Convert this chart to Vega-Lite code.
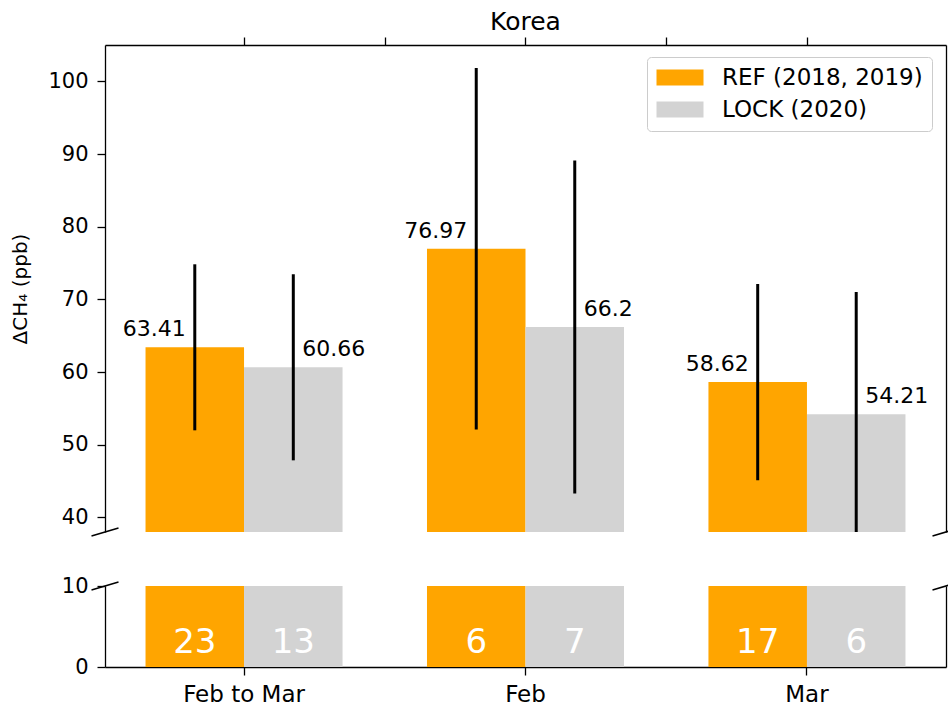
{
  "$schema": "https://vega.github.io/schema/vega-lite/v6.json",
  "padding": {"left": 10, "top": 10, "right": 0, "bottom": 0},
  "background": "white",
  "datasets": {
    "d": [
      {"period": "Feb to Mar", "series": "REF (2018, 2019)", "value": 63.41, "lo": 51.99, "hi": 74.83, "n": 23},
      {"period": "Feb to Mar", "series": "LOCK (2020)", "value": 60.66, "lo": 47.86, "hi": 73.46, "n": 13},
      {"period": "Feb", "series": "REF (2018, 2019)", "value": 76.97, "lo": 52.1, "hi": 101.84, "n": 6},
      {"period": "Feb", "series": "LOCK (2020)", "value": 66.2, "lo": 43.3, "hi": 89.1, "n": 7},
      {"period": "Mar", "series": "REF (2018, 2019)", "value": 58.62, "lo": 45.12, "hi": 72.12, "n": 17},
      {"period": "Mar", "series": "LOCK (2020)", "value": 54.21, "lo": 37.4, "hi": 71.02, "n": 6}
    ]
  },
  "config": {
    "font": "DejaVu Sans",
    "view": {"stroke": null},
    "axis": {
      "grid": false, "domainColor": "#000", "domainWidth": 1.3, "tickColor": "#000", "tickWidth": 1.3, "tickSize": 8,
      "labelFontSize": 21, "labelColor": "#000", "titleColor": "#000", "titleFontWeight": "normal",
      "labelFont": "DejaVu Sans", "titleFont": "DejaVu Sans"
    }
  },
  "spacing": 35,
  "resolve": {"legend": {"color": "independent"}},
  "vconcat": [
    {
      "width": 841,
      "height": 487,
      "title": {"text": "Korea", "fontSize": 25, "fontWeight": "normal", "offset": 1, "color": "#000", "font": "DejaVu Sans"},
      "layer": [
        {
          "data": {"name": "d"},
          "layer": [
            {
              "mark": {"type": "bar", "clip": true},
              "encoding": {
                "x": {"field": "period", "type": "nominal", "sort": ["Feb to Mar", "Feb", "Mar"], "scale": {"paddingInner": 0.3, "paddingOuter": 0.144}, "axis": null},
                "xOffset": {"field": "series", "type": "nominal", "sort": ["REF (2018, 2019)", "LOCK (2020)"], "scale": {"paddingInner": 0, "paddingOuter": 0}},
                "y": {"field": "value", "type": "quantitative", "scale": {"domain": [38, 105], "zero": false, "nice": false},
                      "axis": {"values": [40, 50, 60, 70, 80, 90, 100], "title": "ΔCH₄ (ppb)", "titleFontSize": 20, "titlePadding": 17, "labelPadding": 9}},
                "color": {"field": "series", "type": "nominal",
                          "scale": {"domain": ["REF (2018, 2019)", "LOCK (2020)"], "range": ["#FFA500", "#D3D3D3"]},
                          "legend": {"title": null, "orient": "none", "legendX": 542, "legendY": 12,
                                     "symbolType": "M-1.375,-1H4.5V1H-1.375Z", "symbolSize": 256, "symbolStrokeWidth": 0,
                                     "labelFontSize": 23, "labelOffset": 43, "labelLimit": 0, "labelColor": "#000", "labelFont": "DejaVu Sans",
                                     "padding": 9, "rowPadding": 8, "strokeColor": "#cccccc", "fillColor": "white", "cornerRadius": 4}}
              }
            },
            {
              "mark": {"type": "rule", "clip": true, "strokeWidth": 3, "color": "#000"},
              "encoding": {
                "x": {"field": "period", "type": "nominal", "sort": ["Feb to Mar", "Feb", "Mar"]},
                "xOffset": {"field": "series", "type": "nominal", "sort": ["REF (2018, 2019)", "LOCK (2020)"]},
                "y": {"field": "lo", "type": "quantitative"},
                "y2": {"field": "hi"}
              }
            },
            {
              "transform": [{"filter": "datum.series == 'REF (2018, 2019)'"}],
              "mark": {"type": "text", "align": "right", "baseline": "alphabetic", "dx": -9, "dy": -11, "fontSize": 22, "color": "#000"},
              "encoding": {
                "x": {"field": "period", "type": "nominal", "sort": ["Feb to Mar", "Feb", "Mar"]},
                "xOffset": {"field": "series", "type": "nominal", "sort": ["REF (2018, 2019)", "LOCK (2020)"]},
                "y": {"field": "value", "type": "quantitative"},
                "text": {"field": "value", "type": "nominal"}
              }
            },
            {
              "transform": [{"filter": "datum.series == 'LOCK (2020)'"}],
              "mark": {"type": "text", "align": "left", "baseline": "alphabetic", "dx": 9, "dy": -11, "fontSize": 22, "color": "#000"},
              "encoding": {
                "x": {"field": "period", "type": "nominal", "sort": ["Feb to Mar", "Feb", "Mar"]},
                "xOffset": {"field": "series", "type": "nominal", "sort": ["REF (2018, 2019)", "LOCK (2020)"]},
                "y": {"field": "value", "type": "quantitative"},
                "text": {"field": "value", "type": "nominal"}
              }
            }
          ]
        },
        {
          "data": {"values": [{}]},
          "layer": [
            {
              "mark": {"type": "point", "shape": "M-1,0.3L1,-0.3", "size": 729, "filled": false, "stroke": "#000", "strokeWidth": 1.5, "opacity": 1},
              "encoding": {
                "x": {"datum": -0.494, "type": "quantitative", "scale": {"domain": [-0.494, 2.494], "nice": false, "zero": false},
                      "axis": {"orient": "top", "values": [0, 0.5, 1, 1.5, 2], "labels": false, "title": null}},
                "y": {"datum": 38, "type": "quantitative", "axis": {"orient": "right", "labels": false, "ticks": false, "title": null}}
              }
            },
            {
              "mark": {"type": "point", "shape": "M-1,0.3L1,-0.3", "size": 729, "filled": false, "stroke": "#000", "strokeWidth": 1.5, "opacity": 1},
              "encoding": {
                "x": {"datum": 2.494, "type": "quantitative"},
                "y": {"datum": 38, "type": "quantitative"}
              }
            }
          ]
        }
      ],
      "resolve": {"scale": {"x": "independent"}, "axis": {"x": "independent", "y": "independent"}}
    },
    {
      "width": 841,
      "height": 81,
      "layer": [
        {
          "data": {"name": "d"},
          "layer": [
            {
              "mark": {"type": "bar", "clip": true},
              "encoding": {
                "x": {"field": "period", "type": "nominal", "sort": ["Feb to Mar", "Feb", "Mar"], "scale": {"paddingInner": 0.3, "paddingOuter": 0.144},
                      "axis": {"title": null, "labelAngle": 0, "labelFontSize": 23, "labelPadding": 8}},
                "xOffset": {"field": "series", "type": "nominal", "sort": ["REF (2018, 2019)", "LOCK (2020)"], "scale": {"paddingInner": 0, "paddingOuter": 0}},
                "y": {"field": "value", "type": "quantitative", "scale": {"domain": [0, 10], "nice": false},
                      "axis": {"values": [0, 10], "title": null, "labelPadding": 9}},
                "color": {"field": "series", "type": "nominal", "legend": null}
              }
            },
            {
              "mark": {"type": "text", "align": "center", "baseline": "alphabetic", "dy": -14, "fontSize": 34, "color": "white"},
              "encoding": {
                "x": {"field": "period", "type": "nominal", "sort": ["Feb to Mar", "Feb", "Mar"]},
                "xOffset": {"field": "series", "type": "nominal", "sort": ["REF (2018, 2019)", "LOCK (2020)"]},
                "y": {"datum": 0, "type": "quantitative"},
                "text": {"field": "n", "type": "nominal"}
              }
            }
          ]
        },
        {
          "data": {"values": [{}]},
          "layer": [
            {
              "mark": {"type": "point", "shape": "M-1,0.3L1,-0.3", "size": 729, "filled": false, "stroke": "#000", "strokeWidth": 1.5, "opacity": 1},
              "encoding": {
                "x": {"datum": -0.494, "type": "quantitative", "scale": {"domain": [-0.494, 2.494], "nice": false, "zero": false}, "axis": null},
                "y": {"datum": 10, "type": "quantitative", "axis": {"orient": "right", "labels": false, "ticks": false, "title": null}}
              }
            },
            {
              "mark": {"type": "point", "shape": "M-1,0.3L1,-0.3", "size": 729, "filled": false, "stroke": "#000", "strokeWidth": 1.5, "opacity": 1},
              "encoding": {
                "x": {"datum": 2.494, "type": "quantitative"},
                "y": {"datum": 10, "type": "quantitative"}
              }
            }
          ]
        }
      ],
      "resolve": {"scale": {"x": "independent"}, "axis": {"x": "independent", "y": "independent"}}
    }
  ]
}
